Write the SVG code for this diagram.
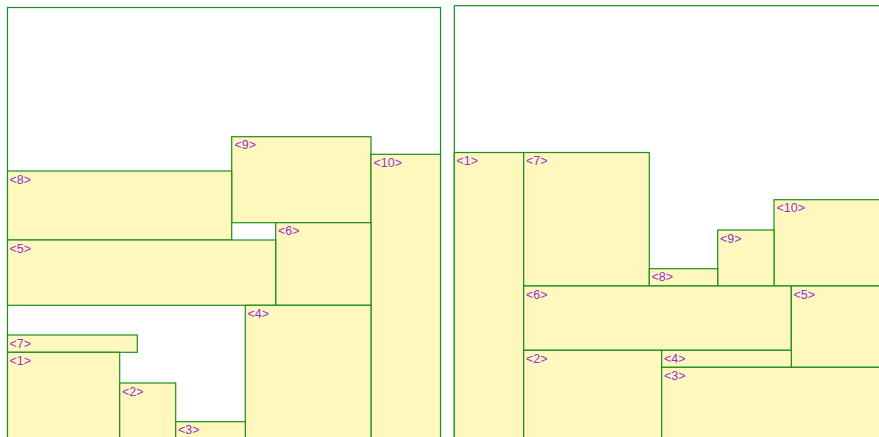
<svg xmlns="http://www.w3.org/2000/svg" width="879" height="437" viewBox="0 0 879 437">
<style>
.c{fill:#fff;stroke:#1e8c1e;stroke-width:1.2}
.n rect{fill:#fef8bf;stroke:#1e8c1e;stroke-width:1.2}
.n text{font-family:"Liberation Sans",Arial,sans-serif;font-size:12.5px;fill:#9932cc}
</style>
<rect width="879" height="437" fill="#fff"/>
<g id="left">
<rect class="c" x="7.5" y="7.5" width="433" height="440"/>
<g class="n" id="L9"><rect x="231.7" y="136.7" width="139.3" height="86"/><text x="234.5" y="149.2">&lt;9&gt;</text></g>
<g class="n" id="L10"><rect x="371" y="154.3" width="69.5" height="290"/><text x="373.5" y="166.8">&lt;10&gt;</text></g>
<g class="n" id="L8"><rect x="7.5" y="171" width="224.2" height="69"/><text x="9.5" y="183.5">&lt;8&gt;</text></g>
<g class="n" id="L6"><rect x="275.7" y="222.7" width="95.3" height="82.6"/><text x="278" y="235.2">&lt;6&gt;</text></g>
<g class="n" id="L5"><rect x="7.5" y="240" width="268.2" height="65.3"/><text x="9.5" y="252.5">&lt;5&gt;</text></g>
<g class="n" id="L4"><rect x="245.3" y="305.3" width="125.7" height="140"/><text x="247.5" y="317.8">&lt;4&gt;</text></g>
<g class="n" id="L7"><rect x="7.5" y="335" width="129.8" height="17.3"/><text x="9.5" y="347.5">&lt;7&gt;</text></g>
<g class="n" id="L1"><rect x="7.5" y="352.3" width="112.2" height="95"/><text x="9.5" y="364.8">&lt;1&gt;</text></g>
<g class="n" id="L2"><rect x="119.7" y="383" width="56" height="65"/><text x="122" y="395.5">&lt;2&gt;</text></g>
<g class="n" id="L3"><rect x="175.7" y="421.7" width="69.6" height="30"/><text x="178" y="434.2">&lt;3&gt;</text></g>
</g>
<g id="right">
<rect class="c" x="454.3" y="5.7" width="440" height="440"/>
<g class="n" id="R1"><rect x="454.3" y="152.5" width="69.4" height="290"/><text x="456.5" y="165">&lt;1&gt;</text></g>
<g class="n" id="R7"><rect x="523.7" y="152.5" width="125.6" height="133.5"/><text x="526" y="165">&lt;7&gt;</text></g>
<g class="n" id="R10"><rect x="774" y="199.7" width="120" height="86.3"/><text x="776.5" y="212.2">&lt;10&gt;</text></g>
<g class="n" id="R9"><rect x="717.7" y="230" width="56.3" height="56"/><text x="720" y="242.5">&lt;9&gt;</text></g>
<g class="n" id="R8"><rect x="649.3" y="268.7" width="68.4" height="17.3"/><text x="651.5" y="281.2">&lt;8&gt;</text></g>
<g class="n" id="R6"><rect x="523.7" y="286" width="267.6" height="64.3"/><text x="526" y="298.5">&lt;6&gt;</text></g>
<g class="n" id="R5"><rect x="791.3" y="286" width="100" height="81.3"/><text x="793.5" y="298.5">&lt;5&gt;</text></g>
<g class="n" id="R2"><rect x="523.7" y="350.3" width="138" height="95"/><text x="526" y="362.8">&lt;2&gt;</text></g>
<g class="n" id="R4"><rect x="661.7" y="350.3" width="129.6" height="17"/><text x="664" y="362.8">&lt;4&gt;</text></g>
<g class="n" id="R3"><rect x="661.7" y="367.3" width="230" height="80"/><text x="664" y="379.8">&lt;3&gt;</text></g>
</g>
<g id="connectors"/>
</svg>
